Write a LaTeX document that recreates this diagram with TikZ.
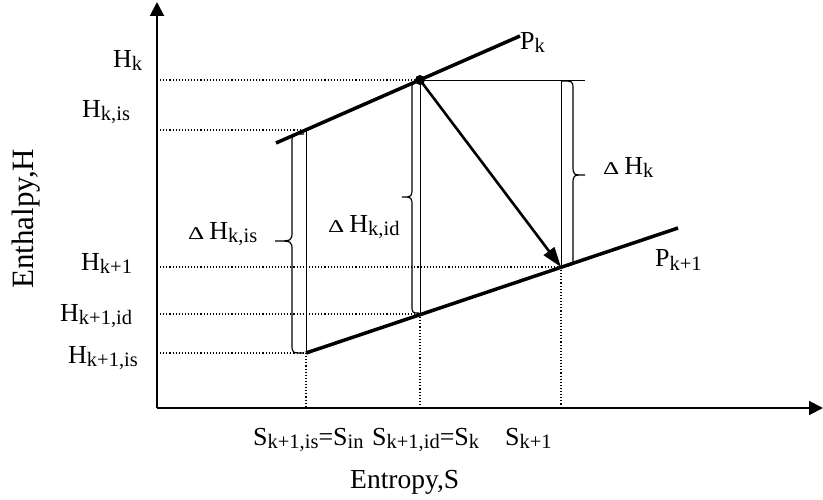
\documentclass[tikz,border=0pt]{standalone}
\usepackage{fontspec}
\setmainfont{Liberation Serif}
\usetikzlibrary{arrows.meta}
\newcommand{\sbs}[1]{\raisebox{-3pt}{\fontsize{20.5}{21}\selectfont #1}}
\newcommand{\DD}{\scalebox{1.4}[1]{\fontsize{18}{18}\selectfont Δ}\hspace{5pt}}
\newcommand{\bracepath}[6]{% x0 x1 xt ytop ybot ymid
  \draw[brc] (#1,#4) .. controls (#2,#4) .. (#2,#4+9) -- (#2,#6-10)
    .. controls (#2,#6) .. (#3,#6) .. controls (#2,#6) .. (#2,#6+10)
    -- (#2,#5-9) .. controls (#2,#5) .. (#1,#5);}
\begin{document}
\begin{tikzpicture}[x=1pt,y=-1pt,
  lbl/.style={font=\fontsize{26}{28}\selectfont, inner sep=0pt, anchor=base west},
  axlbl/.style={font=\fontsize{27.5}{30}\selectfont, inner sep=0pt, anchor=base west},
  axis/.style={line width=2pt, -{Triangle[length=14pt,width=14pt]}},
  isobar/.style={line width=3.5pt},
  guide/.style={line width=1.1pt, dash pattern=on 1.1pt off 2pt},
  thinline/.style={line width=0.9pt},
  brc/.style={line width=1.2pt},
  expansion/.style={line width=2.6pt, -{Triangle[length=20pt,width=13pt]}}
]
\useasboundingbox (0,0) rectangle (823,500);
% points
\coordinate (O) at (157,408);
\coordinate (Ytop) at (157,2);
\coordinate (Xend) at (823,408);
\coordinate (k) at (420,80);
\coordinate (kis) at (306,130);
\coordinate (k1) at (561,267);
\coordinate (k1id) at (420,314);
\coordinate (k1is) at (306,353);
\coordinate (Pka) at (276,143);
\coordinate (Pkb) at (520,36);
\coordinate (Pk1b) at (678,228);
\coordinate (hend) at (585,80);
% dotted guides
\draw[guide] (O |- k) -- (k);
\draw[guide] (O |- kis) -- (kis);
\draw[guide] (O |- k1) -- (k1);
\draw[guide] (O |- k1id) -- (k1id);
\draw[guide] (O |- k1is) -- (k1is);
\draw[guide] (k1is) -- (k1is |- O);
\draw[guide] (k1id) -- (k1id |- O);
\draw[guide] (k1) -- (k1 |- O);
% thin solid lines
\draw[thinline] (kis) -- (k1is);
\draw[thinline] (k) -- (k1id);
\draw[thinline] (k1 |- k) -- (k1);
\draw[thinline] (k) -- (hend);
% axes
\draw[axis] (O) -- (Ytop);
\draw[axis] (O) -- (Xend);
% isobars
\draw[isobar] (Pka) -- (Pkb);
\draw[isobar] (k1is) -- (Pk1b);
% expansion
\draw[expansion] (k) -- (k1);
\fill (k) circle (5pt);
% braces
\bracepath{304}{292}{275}{134}{353}{241}
\bracepath{419}{412}{402}{82}{313}{197}
\bracepath{562}{573}{585}{81}{266}{175}
% labels
\node[lbl] (lHk) at (113,68) {H\sbs{k}};
\node[lbl] (lHkis) at (82,118) {H\sbs{k,is}};
\node[lbl] (lHk1) at (81,270) {H\sbs{k+1}};
\node[lbl] (lHk1id) at (60,321) {H\sbs{k+1,id}};
\node[lbl] (lHk1is) at (68,363) {H\sbs{k+1,is}};
\node[lbl] (dHkis) at (188,240) {\DD H\sbs{k,is}};
\node[lbl] (dHkid) at (328,233) {\DD H\sbs{k,id}};
\node[lbl] (dHk) at (603,175) {\DD H\sbs{k}};
\node[lbl] (lPk) at (520,50) {P\sbs{k}};
\node[lbl] (lPk1) at (655,267) {P\sbs{k+1}};
\node[lbl] (lS1) at (253,445) {S\sbs{k+1,is}=S\sbs{in}};
\node[lbl] (lS2) at (372,445) {S\sbs{k+1,id}=S\sbs{k}};
\node[lbl] (lS3) at (505,445) {S\sbs{k+1}};
\node[axlbl] (lS) at (350,488) {Entropy,S};
\node[axlbl, rotate=90, font=\fontsize{31}{33}\selectfont] (lH) at (33,289) {Enthalpy,H};
\end{tikzpicture}
\end{document}
